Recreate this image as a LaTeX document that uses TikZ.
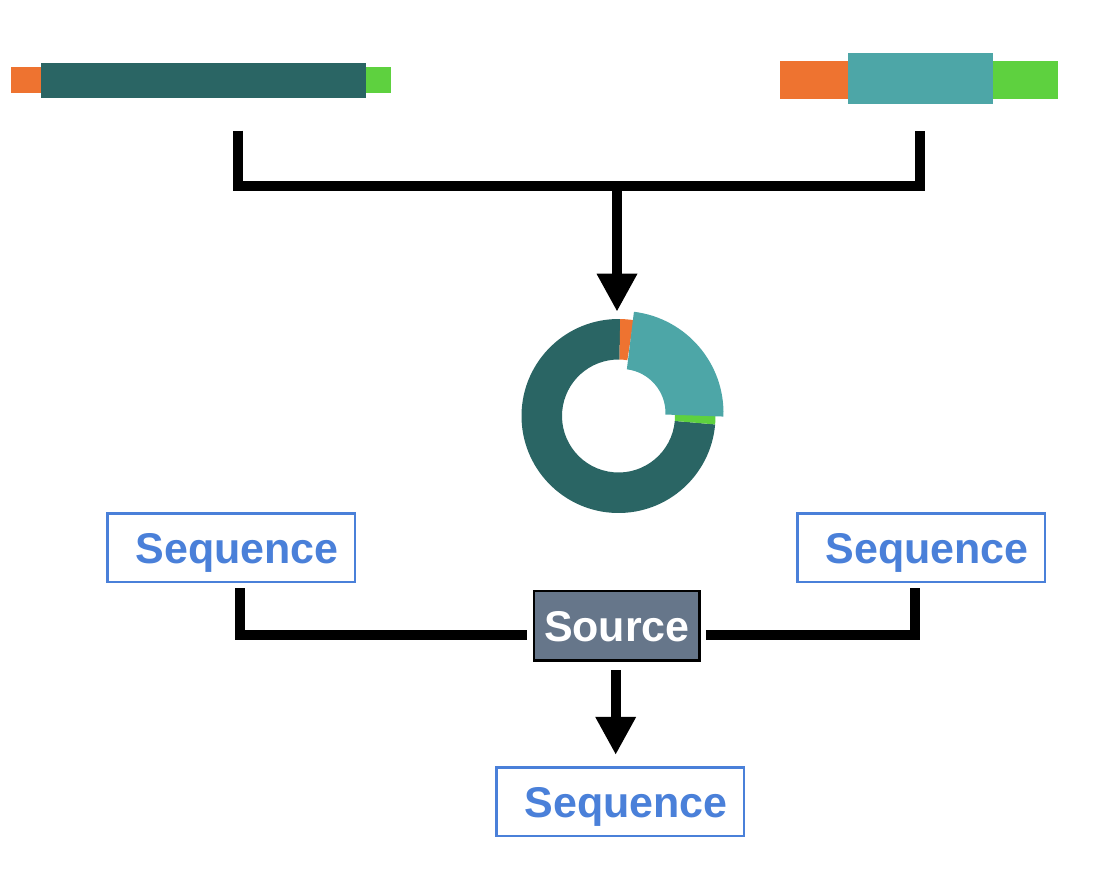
\documentclass[tikz,border=0pt]{standalone}
\usepackage{fontspec}
\setmainfont{Liberation Sans}
\usetikzlibrary{arrows.meta,calc}
\definecolor{darkteal}{HTML}{2A6564}
\definecolor{lightteal}{HTML}{4DA6A7}
\definecolor{seqorange}{HTML}{EE7330}
\definecolor{seqgreen}{HTML}{5ED13F}
\definecolor{seqblue}{HTML}{4A80D9}
\definecolor{srcfill}{HTML}{66768A}
\newcommand\donutpart[6]{%
  \fill[#1] ($(#2)+(#3:#6)$) arc[start angle=#3, end angle=#4, radius=#6]
    -- ($(#2)+(#4:#5)$) arc[start angle=#4, end angle=#3, radius=#5] -- cycle;}
\begin{document}
\begin{tikzpicture}[x=1pt,y=1pt,
  bar/.style={rectangle, inner sep=0pt, draw=none, anchor=north west},
  labelfont/.style={font=\fontsize{43}{50}\selectfont\bfseries},
  seqbox/.style={labelfont, draw=seqblue, line width=2.5pt, fill=white, text=seqblue,
    minimum width=247.5pt, minimum height=68.5pt, inner sep=0pt, text height=31pt, text depth=0pt},
  srcbox/.style={labelfont, draw=black, line width=2.5pt, fill=srcfill, text=white,
    minimum width=165.5pt, minimum height=69.5pt, inner sep=0pt, text height=31pt, text depth=0pt},
  link/.style={line width=10pt, line join=miter, line cap=butt},
  flow/.style={link, -{Triangle[length=38pt,width=38pt]}}
]
\useasboundingbox (0,0) rectangle (1108,-880);

% top-left construct
\node[bar, fill=seqorange, minimum width=30pt, minimum height=26pt] (lo) at (11,-67) {};
\node[bar, fill=darkteal, minimum width=325pt, minimum height=35pt] (ld) at (41,-63) {};
\node[bar, fill=seqgreen, minimum width=25pt, minimum height=26pt] (lg) at (366,-67) {};

% top-right construct
\node[bar, fill=seqorange, minimum width=68pt, minimum height=38pt] (ro) at (780,-61) {};
\node[bar, fill=seqgreen, minimum width=65pt, minimum height=38pt] (rg) at (993,-61) {};
\node[bar, fill=lightteal, minimum width=145pt, minimum height=51pt] (rt) at (848,-53) {};

% bracket and arrow
\coordinate (lb) at (237.5,-130.7);
\coordinate (rb) at (919.5,-130.7);
\coordinate (junc) at (617,-185.7);
\coordinate (ringtop) at (617,-311.7);
\draw[link] (lb) |- (junc) -| (rb);
\draw[flow] (junc) -- (ringtop);

% donut
\coordinate (ring) at (618.5,-416);
\coordinate (ringx) at (621.5,-413);
\donutpart{darkteal}{ring}{-271}{-5}{56.5}{97}
\donutpart{seqorange}{ring}{81}{89}{56.5}{97}
\donutpart{seqgreen}{ring}{-5}{1}{56.5}{97}
\donutpart{lightteal}{ringx}{-2}{83}{44}{102}

% bottom
\node[seqbox] (lseq) at (231,-547.8) {\hspace*{12pt}Sequence};
\node[seqbox] (rseq) at (921.2,-547.8) {\hspace*{12pt}Sequence};
\node[srcbox] (src) at (616.9,-625.8) {Source};
\node[seqbox] (bseq) at (620,-801.7) {\hspace*{12pt}Sequence};

\coordinate (ldrop) at (240,-588);
\coordinate (rdrop) at (914.7,-588);
\draw[link] (ldrop) |- ([xshift=-6pt,yshift=-9pt]src.west);
\draw[link] ([xshift=5pt,yshift=-9pt]src.east) -| (rdrop);
\draw[flow] ([xshift=-1.2pt,yshift=-8.5pt]src.south) -- ([xshift=-1.2pt,yshift=11.3pt]src.south |- bseq.north);
\end{tikzpicture}
\end{document}
